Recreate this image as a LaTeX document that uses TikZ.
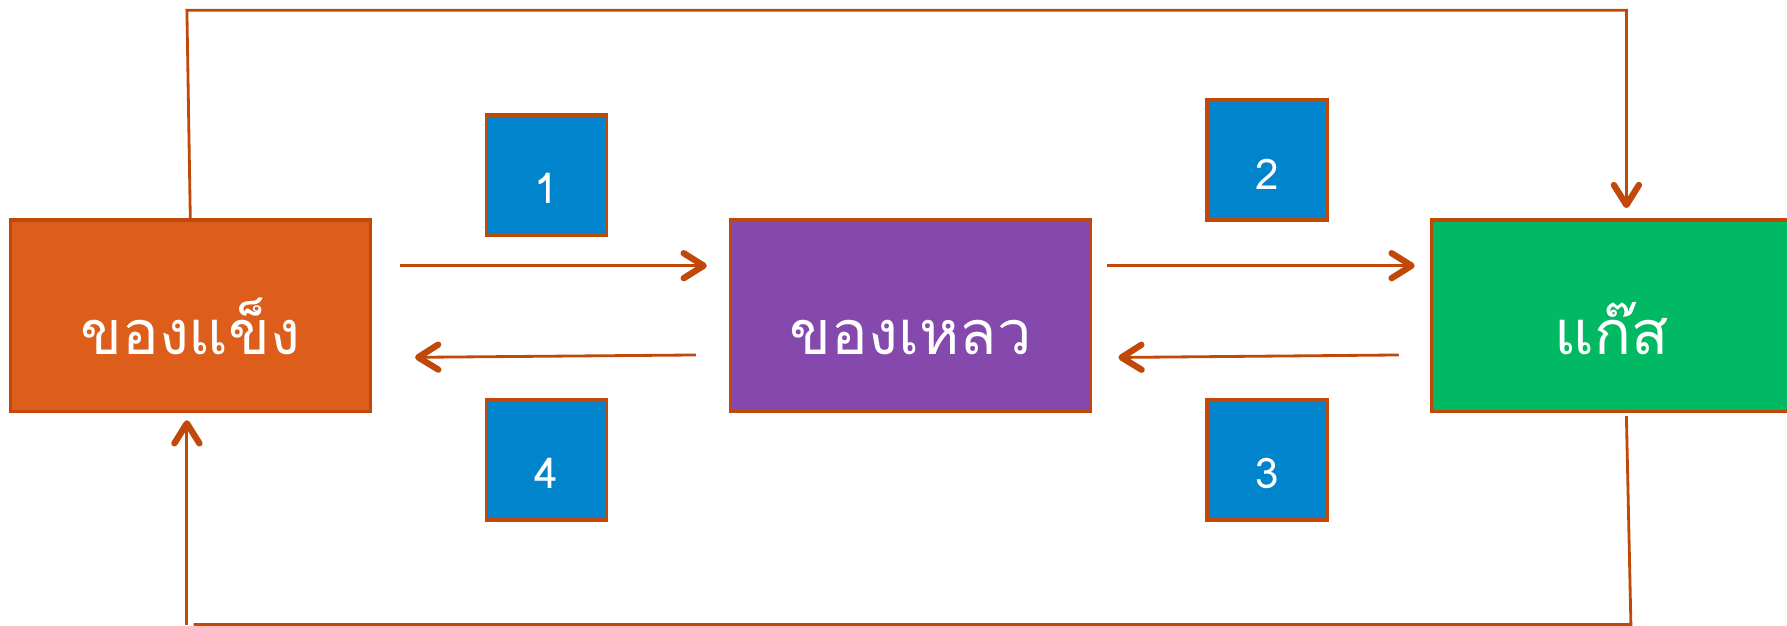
\documentclass[tikz,border=0pt]{standalone}
\usepackage{fontspec}
\newfontfamily\thaifont[Script=Thai]{Loma}
\usetikzlibrary{arrows.meta}
\definecolor{solidfill}{HTML}{DD5E1B}
\definecolor{liquidfill}{HTML}{8549AD}
\definecolor{gasfill}{HTML}{00B962}
\definecolor{numfill}{HTML}{0084CC}
\definecolor{flowline}{HTML}{C0490A}
\begin{document}
\begin{tikzpicture}[x=0.1mm, y=-0.1mm,
  phase/.style={draw=flowline, line width=1pt, text=white, minimum width=3.6cm, minimum height=1.915cm, inner sep=0pt, text height=7.7mm, text depth=0pt, font=\thaifont\fontsize{17.4}{21}\selectfont},
  numbox/.style={draw=flowline, line width=1pt, fill=numfill, text=white, minimum size=1.2cm, inner sep=0pt, text height=5.8mm, text depth=0pt, font=\thaifont\fontsize{12}{14}\selectfont},
  flow/.style={draw=flowline, line width=0.8pt, -{Straight Barb[length=2mm, width=2.5mm, line width=1.8pt, round]}},
  plain/.style={draw=flowline, line width=0.8pt}]
\useasboundingbox (0,0) rectangle (1787,626);
\node[phase, fill=solidfill] (solid) at (190.3,315.7) {ของแข็ง};
\node[phase, fill=liquidfill] (liquid) at (910.6,315.7) {ของเหลว};
\node[phase, fill=gasfill] (gas) at (1611.5,315.7) {แก๊ส};
\node[numbox] (n1) at (546.5,174.9) {1};
\node[numbox] (n2) at (1266.8,160.1) {2};
\node[numbox] (n3) at (1266.8,459.9) {3};
\node[numbox] (n4) at (546.5,459.9) {4};
\coordinate (topL) at (186.9,10.3);
\coordinate (topR) at (1626.4,10.3);
\coordinate (botR) at (1630.9,624.5);
\coordinate (botL) at (186.9,624.5);
\path ([yshift=0.5cm]solid.east) edge[flow, shorten <=2.75mm, shorten >=2.2mm] ([yshift=0.5cm]liquid.west);
\path ([yshift=0.5cm]liquid.east) edge[flow, shorten <=1.5mm, shorten >=1.5mm] ([yshift=0.5cm]gas.west);
\path ([yshift=-0.39cm]liquid.west) edge[flow, shorten <=3.3mm, shorten >=4.3mm] ([yshift=-0.42cm]solid.east);
\path ([yshift=-0.39cm]gas.west) edge[flow, shorten <=3.1mm, shorten >=2.6mm] ([yshift=-0.42cm]liquid.east);
\draw [flow, shorten >=1mm] (solid.north) -- (topL) -- (topR) -- (topR |- gas.north);
\draw [plain] (1626.4,416) -- (botR) -- (193.7,624.5);
\draw [flow, shorten >=0.7mm] (botL) -- (botL |- solid.south);
\end{tikzpicture}
\end{document}
